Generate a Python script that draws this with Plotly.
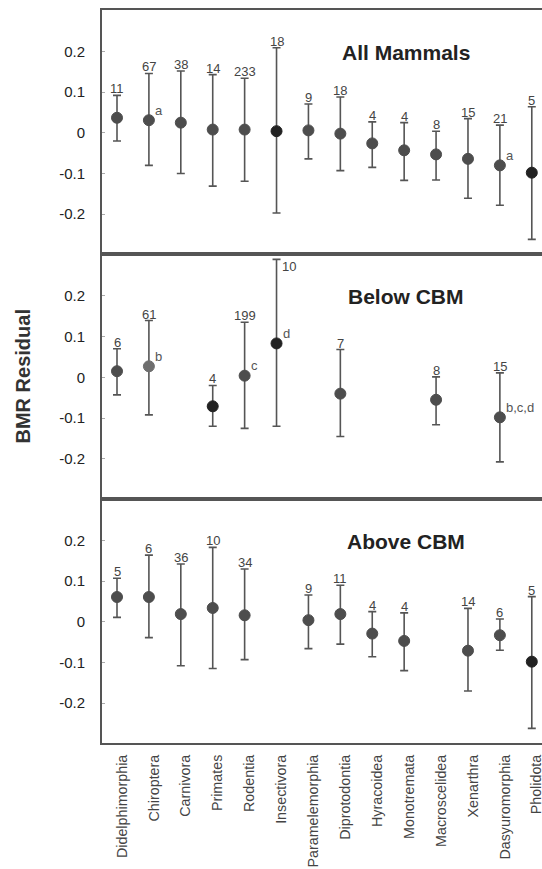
import plotly.graph_objects as go

categories = ["Didelphimorphia", "Chiroptera", "Carnivora", "Primates", "Rodentia",
              "Insectivora", "Paramelemorphia", "Diprotodontia", "Hyracoidea",
              "Monotremata", "Macroscelidea", "Xenarthra", "Dasyuromorphia", "Pholidota"]

panel_titles = ["All Mammals", "Below CBM", "Above CBM"]

# All Mammals
all_mean = [0.037, 0.031, 0.025, 0.008, 0.008, 0.004, 0.006, -0.002, -0.026, -0.043, -0.053, -0.064, -0.080, -0.098]
all_upper = [0.092, 0.146, 0.152, 0.143, 0.134, 0.209, 0.071, 0.088, 0.027, 0.025, 0.004, 0.035, 0.019, 0.064]
all_lower = [-0.020, -0.080, -0.100, -0.131, -0.119, -0.197, -0.064, -0.093, -0.085, -0.117, -0.116, -0.161, -0.178, -0.262]
all_n = [11, 67, 38, 14, 233, 18, 9, 18, 4, 4, 8, 15, 21, 5]
all_letters = ["", "a", "", "", "", "", "", "", "", "", "", "", "a", ""]

# Below CBM
below_mean = [0.015, 0.027, None, -0.071, 0.004, 0.083, None, -0.040, None, None, -0.055, None, -0.098, None]
below_upper = [0.070, 0.139, None, -0.020, 0.135, 0.289, None, 0.068, None, None, 0.001, None, 0.011, None]
below_lower = [-0.043, -0.092, None, -0.120, -0.125, -0.120, None, -0.145, None, None, -0.116, None, -0.207, None]
below_n = [6, 61, None, 4, 199, 10, None, 7, None, None, 8, None, 15, None]
below_letters = ["", "b", "", "", "c", "d", "", "", "", "", "", "", "b,c,d", ""]

# Above CBM
above_mean = [0.061, 0.061, 0.019, 0.034, 0.016, None, 0.004, 0.019, -0.029, -0.047, None, -0.071, -0.033, -0.098]
above_upper = [0.107, 0.164, 0.142, 0.183, 0.130, None, 0.066, 0.090, 0.025, 0.022, None, 0.033, 0.007, 0.062]
above_lower = [0.011, -0.039, -0.108, -0.115, -0.093, None, -0.066, -0.055, -0.086, -0.120, None, -0.170, -0.070, -0.262]
above_n = [5, 6, 36, 10, 34, None, 9, 11, 4, 4, None, 14, 6, 5]
above_letters = [""] * 14

ytick_vals = [-0.2, -0.1, 0, 0.1, 0.2]
ytick_text = ["-0.2", "-0.1", "0", "0.1", "0.2"]

# ---- styling ----
FONT = "Arial, Liberation Sans, Helvetica, sans-serif"
BASE_COL = "#4d4d4d"
DARK_COL = "#222222"
LIGHT_COL = "#6e6e6e"
dark_points = {0: [5, 13], 1: [3, 5], 2: [13]}
light_points = {1: [1]}
side_label = {(1, 5)}  # n label placed to the right of the cap

panels = [
    (all_mean, all_upper, all_lower, all_n, all_letters),
    (below_mean, below_upper, below_lower, below_n, below_letters),
    (above_mean, above_upper, above_lower, above_n, above_letters),
]

domains = [[0.6671, 1.0], [0.3329, 0.6671], [0.0, 0.3329]]
xrange_ = [-0.47, 13.32]
yrange_ = [-0.298, 0.302]

fig = go.Figure()
annotations = []
layout = {}

for p, (mean, upper, lower, nlab, letters) in enumerate(panels):
    sfx = "" if p == 0 else str(p + 1)
    xa, ya = "x" + sfx, "y" + sfx
    xs, ys, ep, em, cols = [], [], [], [], []
    for i, m in enumerate(mean):
        if m is None:
            continue
        xs.append(i)
        ys.append(m)
        ep.append(upper[i] - m)
        em.append(m - lower[i])
        if i in dark_points.get(p, []):
            cols.append(DARK_COL)
        elif i in light_points.get(p, []):
            cols.append(LIGHT_COL)
        else:
            cols.append(BASE_COL)
        # n label
        if (p, i) in side_label:
            annotations.append(dict(x=i, y=upper[i], xref=xa, yref=ya, text=str(nlab[i]),
                                    showarrow=False, xanchor="left", yanchor="middle",
                                    xshift=3, yshift=-7,
                                    font=dict(family=FONT, size=13, color="#444")))
        else:
            annotations.append(dict(x=i, y=upper[i], xref=xa, yref=ya, text=str(nlab[i]),
                                    showarrow=False, xanchor="center", yanchor="bottom",
                                    yshift=-3,
                                    font=dict(family=FONT, size=13, color="#444")))
        if letters[i]:
            annotations.append(dict(x=i, y=m, xref=xa, yref=ya, text=letters[i],
                                    showarrow=False, xanchor="left", yanchor="middle",
                                    xshift=4, yshift=10,
                                    font=dict(family=FONT, size=13, color="#555")))
    fig.add_trace(go.Scatter(
        x=xs, y=ys, mode="markers", xaxis=xa, yaxis=ya, showlegend=False,
        hoverinfo="skip",
        marker=dict(size=11, color=cols, line=dict(width=1, color=cols)),
        error_y=dict(type="data", symmetric=False, array=ep, arrayminus=em,
                     color="#555555", thickness=1.6, width=4),
    ))
    annotations.append(dict(x=9.05, y=0.198, xref=xa, yref=ya, text="<b>" + panel_titles[p] + "</b>",
                            showarrow=False, xanchor="center", yanchor="middle",
                            font=dict(family=FONT, size=21, color="#222")))
    last = (p == 2)
    layout["xaxis" + sfx] = dict(
        domain=[0, 1], range=xrange_, anchor=ya, showgrid=False, zeroline=False,
        showline=True, mirror=True, linecolor="#555", linewidth=2,
        tickmode="array", tickvals=list(range(len(categories))),
        ticktext=categories if last else [""] * len(categories),
        showticklabels=last, tickangle=-90, ticks="",
        tickfont=dict(family=FONT, size=14.3, color="#444"),
        ticklabelstandoff=4, ticklabelshift=5,
        ticklabeloverflow="allow", automargin=False,
    )
    layout["yaxis" + sfx] = dict(
        domain=domains[p], range=yrange_, anchor=xa, showgrid=False, zeroline=False,
        showline=True, mirror=False, linecolor="#555", linewidth=2,
        tickmode="array", tickvals=ytick_vals, ticktext=ytick_text,
        ticks="inside", ticklen=3, tickcolor="#aaa",
        tickfont=dict(family=FONT, size=15, color="#222"),
        ticklabelstandoff=12, automargin=False,
    )

annotations.append(dict(x=(22 - 102) / 440, y=0.5, xref="paper", yref="paper",
                        text="<b>BMR Residual</b>", textangle=-90, showarrow=False,
                        xanchor="center", yanchor="middle",
                        font=dict(family=FONT, size=20, color="#333")))

fig.update_layout(
    width=542, height=869,
    margin=dict(l=102, r=0, t=10, b=126, autoexpand=False),
    paper_bgcolor="white", plot_bgcolor="white",
    annotations=annotations,
    **layout,
)

fig.write_html("out.html")
